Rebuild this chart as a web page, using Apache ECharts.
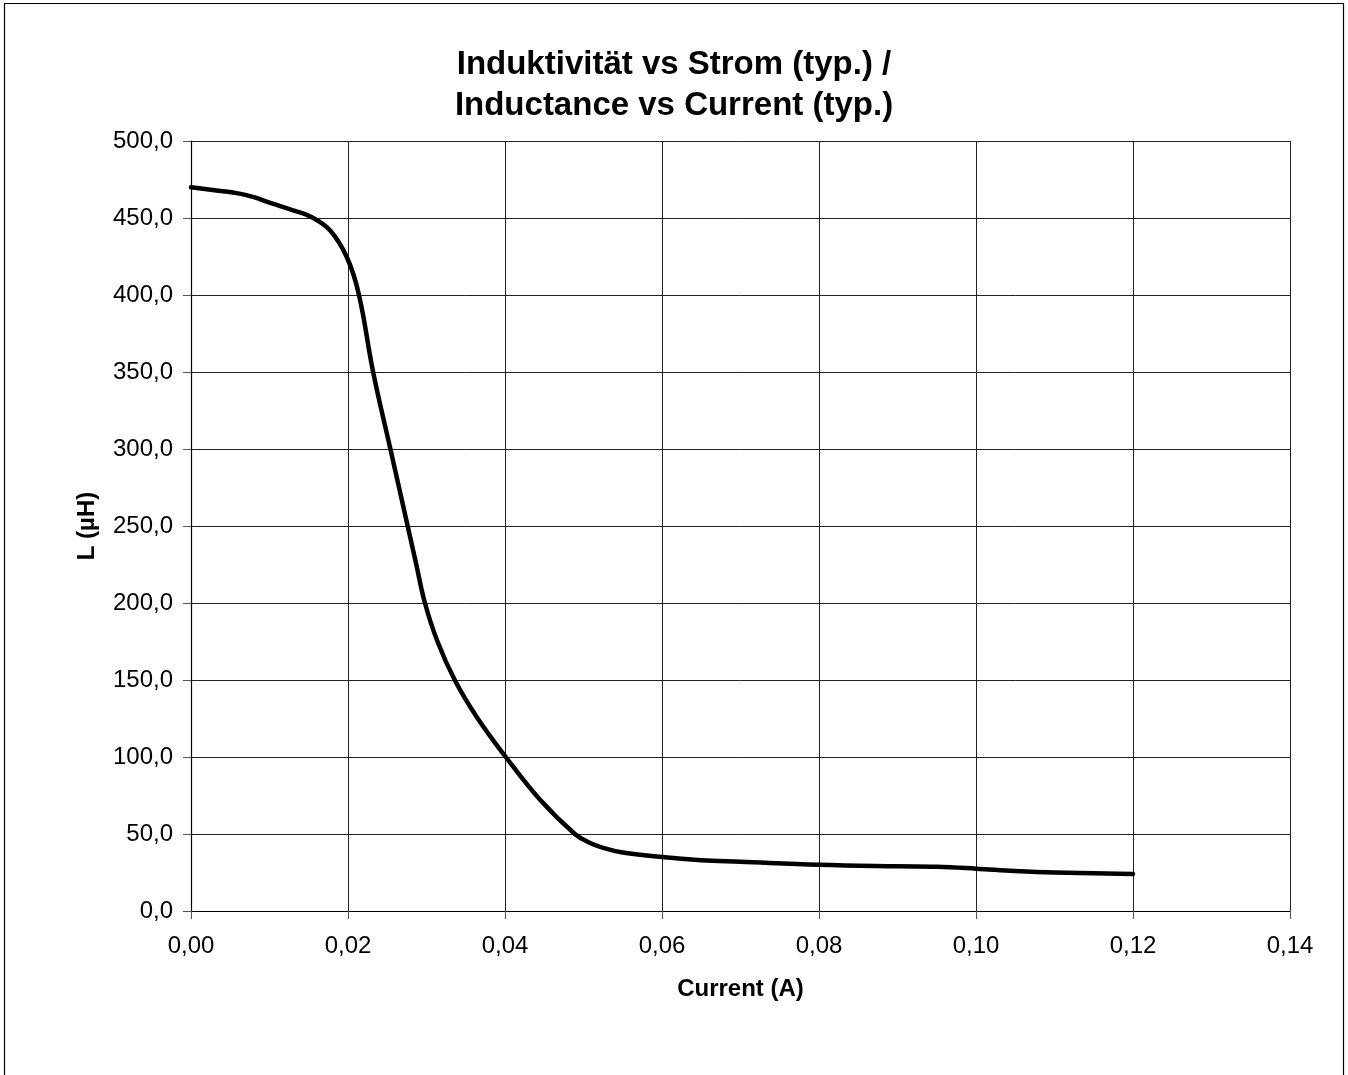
<!DOCTYPE html>
<html>
<head>
<meta charset="utf-8">
<script src="https://cdn.jsdelivr.net/npm/echarts@6/dist/echarts.min.js"></script>
<style>
  html, body { margin: 0; padding: 0; background: #fff; }
  #chart { width: 1348px; height: 1075px; }
</style>
</head>
<body>
<div id="chart"></div>
<script>
const currentA = [0, 0.003, 0.006, 0.008, 0.010, 0.013, 0.0152, 0.0177, 0.0199, 0.0214, 0.0232, 0.0254, 0.0276, 0.0287, 0.0298, 0.0314, 0.0336, 0.0364, 0.0401, 0.0445, 0.0489, 0.0507, 0.0525, 0.0550, 0.060, 0.065, 0.070, 0.080, 0.090, 0.095, 0.100, 0.105, 0.110, 0.120];
const inductanceUH = [470, 468, 466, 463.5, 460, 455, 451, 442, 424, 400, 350, 300, 250, 225, 200, 175, 150, 126, 100, 72, 50, 44.5, 41, 38, 35, 33, 32, 30, 29, 28.7, 27.5, 26, 25, 24];
const titleLines = ['Induktivität vs Strom (typ.) /', 'Inductance vs Current (typ.)'];
const xName = 'Current (A)';
const yName = 'L (µH)';

const chart = echarts.init(document.getElementById('chart'));
const font = '"Liberation Sans", Arial, sans-serif';
chart.setOption({
  animation: false,
  backgroundColor: '#fff',
  title: {
    text: titleLines.join('\n'),
    left: 'center',
    top: 39,
    textStyle: { fontFamily: font, fontSize: 33, fontWeight: 'bold', color: '#000', lineHeight: 41 }
  },
  graphic: [{
    type: 'rect',
    shape: { x: 4.5, y: 3.5, width: 1339, height: 1080 },
    style: { fill: 'none', stroke: '#000', lineWidth: 1.2 },
    silent: true
  }],
  grid: { left: 191, right: 58, top: 141, bottom: 164, containLabel: false },
  xAxis: {
    type: 'value', min: 0, max: 0.14, interval: 0.02,
    name: xName, nameLocation: 'middle', nameGap: 66,
    nameTextStyle: { fontFamily: font, fontSize: 24, fontWeight: 'bold', color: '#000' },
    axisLine: { show: true, onZero: false, lineStyle: { color: '#000', width: 1.2 } },
    axisTick: { show: true, length: 8, lineStyle: { color: '#555' } },
    axisLabel: { margin: 23, fontFamily: font, fontSize: 24, color: '#000',
      formatter: v => v.toFixed(2).replace('.', ',') },
    splitLine: { show: true, lineStyle: { color: '#222', width: 1 } }
  },
  yAxis: {
    type: 'value', min: 0, max: 500, interval: 50,
    name: yName, nameLocation: 'middle', nameGap: 92,
    nameTextStyle: { fontFamily: font, fontSize: 24, fontWeight: 'bold', color: '#000' },
    axisLine: { show: true, lineStyle: { color: '#000', width: 1.2 } },
    axisTick: { show: true, length: 8, lineStyle: { color: '#555' } },
    axisLabel: { margin: 18, fontFamily: font, fontSize: 24, color: '#000',
      formatter: v => v.toFixed(1).replace('.', ',') },
    splitLine: { show: true, lineStyle: { color: '#222', width: 1 } }
  },
  series: [{
    type: 'line',
    data: currentA.map((x, i) => [x, inductanceUH[i]]),
    smooth: 0.4,
    showSymbol: false,
    lineStyle: { color: '#000', width: 4.5, cap: 'round', join: 'round' },
    itemStyle: { color: '#000' }
  }]
});
</script>
</body>
</html>
